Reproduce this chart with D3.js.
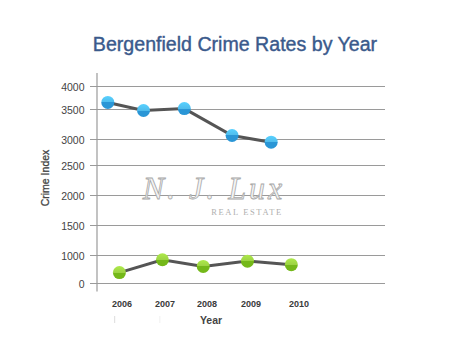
<!DOCTYPE html>
<html><head><meta charset="utf-8">
<script src="https://cdn.jsdelivr.net/npm/d3@7"></script>
<style>
html,body{margin:0;padding:0;background:#fff;}
svg{display:block;}
</style></head>
<body>
<svg id="chart" width="476" height="350"></svg>
<script>
// ---- data ----
const title = "Bergenfield Crime Rates by Year";
const years = [2006, 2007, 2008, 2009, 2010];
const yTicks = [0, 1000, 1500, 2000, 2500, 3000, 3500, 4000];
// blue series (position along the year axis as drawn, value)
const blueX = [2005.67, 2006.50, 2007.46, 2008.57, 2009.42];
const blueValues = [3654, 3483, 3520, 3067, 2948];
// green series
const greenX = [2005.94, 2006.94, 2007.91, 2008.92, 2009.84];
const greenValues = [389, 848, 611, 799, 671];

const svg = d3.select("#chart");
const defs = svg.append("defs");
function grad(id, top, bottom){
  const g = defs.append("linearGradient").attr("id", id).attr("x1",0).attr("y1",0).attr("x2",0).attr("y2",1);
  g.append("stop").attr("offset","0%").attr("stop-color", d3.color(top).brighter(0.3));
  g.append("stop").attr("offset","50%").attr("stop-color", top);
  g.append("stop").attr("offset","50%").attr("stop-color", bottom);
  g.append("stop").attr("offset","100%").attr("stop-color", bottom);
}
grad("gBlue", "#4fbcec", "#2a96d6");
grad("gGreen", "#9cd243", "#74b819");

// scales (the source chart uses uneven gridline spacing)
const y = d3.scaleLinear()
  .domain([0, 1000, 1500, 2000, 2500, 3000, 3500, 4000])
  .range([283.5, 255.5, 225.5, 195.5, 165.5, 139.5, 109.5, 86.5]);
const x = d3.scaleLinear()
  .domain(years)
  .range([122, 165, 207, 251, 299]);

const axisX = 97, gridLeft = 90, gridRight = 385;

// title
svg.append("text").attr("x", 235).attr("y", 50.5).attr("text-anchor","middle")
  .attr("font-family","Liberation Sans, Arial, sans-serif").attr("font-size", 19.6)
  .attr("fill","#3a5a8c").attr("stroke","#3a5a8c").attr("stroke-width",0.4).text(title);

// gridlines
svg.append("g").selectAll("line").data(yTicks).join("line")
  .attr("x1", gridLeft).attr("x2", gridRight)
  .attr("y1", d => y(d)).attr("y2", d => y(d))
  .attr("stroke","#9a9a9a").attr("stroke-width",1.2);
// axis line
svg.append("line").attr("x1",axisX).attr("x2",axisX).attr("y1",73).attr("y2",291.5)
  .attr("stroke","#9a9a9a").attr("stroke-width",1.2);

// y tick labels
svg.append("g").selectAll("text").data(yTicks).join("text")
  .attr("x", 84.5).attr("y", d => y(d) + 4).attr("text-anchor","end")
  .attr("font-family","Liberation Sans, Arial, sans-serif").attr("font-size",10.5)
  .attr("fill","#444").text(d => d);

// y axis title
svg.append("text").attr("transform","translate(48.5,178) rotate(-90)").attr("text-anchor","middle")
  .attr("font-family","Liberation Sans, Arial, sans-serif").attr("font-size",10.5)
  .attr("fill","#444").attr("stroke","#444").attr("stroke-width",0.3).text("Crime Index");

// x labels
svg.append("g").selectAll("text").data(years).join("text")
  .attr("x", d => x(d)).attr("y", 307).attr("text-anchor","middle")
  .attr("font-family","Liberation Sans, Arial, sans-serif").attr("font-size",9).attr("font-weight","bold")
  .attr("fill","#3a3a3a").text(d => d);
// x title
svg.append("text").attr("x", 211).attr("y", 323.5).attr("text-anchor","middle")
  .attr("font-family","Liberation Sans, Arial, sans-serif").attr("font-size",10.5).attr("font-weight","bold")
  .attr("fill","#444").text("Year");
// faint marks
svg.append("g").selectAll("line").data([2005.83, 2006.88]).join("line")
  .attr("x1", d => x(d)).attr("x2", d => x(d)).attr("y1",316).attr("y2",323)
  .attr("stroke", (d,i) => i ? "#f0f0f0" : "#dcdcdc").attr("stroke-width",1);

// watermark
const wm = svg.append("g");
wm.append("text").attr("x", 214).attr("y", 199).attr("text-anchor","middle")
  .attr("font-family","Liberation Serif, DejaVu Serif, serif").attr("font-style","italic").attr("font-size",32)
  .attr("fill","#f4f4f4").attr("stroke","#a8a8a8").attr("stroke-width",0.8)
  .attr("letter-spacing",3).text("N. J. Lux");
wm.append("text").attr("x", 247).attr("y", 215).attr("text-anchor","middle")
  .attr("font-family","Liberation Serif, DejaVu Serif, serif").attr("font-size",8.5)
  .attr("fill","#b0b0b0").attr("letter-spacing",1.6).text("REAL ESTATE");

// series
const line = d3.line().x(d => x(d[0])).y(d => y(d[1]));
const series = [
  {xs: blueX, vs: blueValues, fill: "url(#gBlue)"},
  {xs: greenX, vs: greenValues, fill: "url(#gGreen)"}
];
series.forEach(s => {
  const pts = s.xs.map((xv, i) => [xv, s.vs[i]]);
  svg.append("path").datum(pts).attr("d", line).attr("fill","none")
    .attr("stroke","#555").attr("stroke-width",3);
  svg.append("g").selectAll("circle").data(pts).join("circle")
    .attr("cx", d => x(d[0])).attr("cy", d => y(d[1])).attr("r", 6.5)
    .attr("fill", s.fill);
});
</script>
</body></html>
